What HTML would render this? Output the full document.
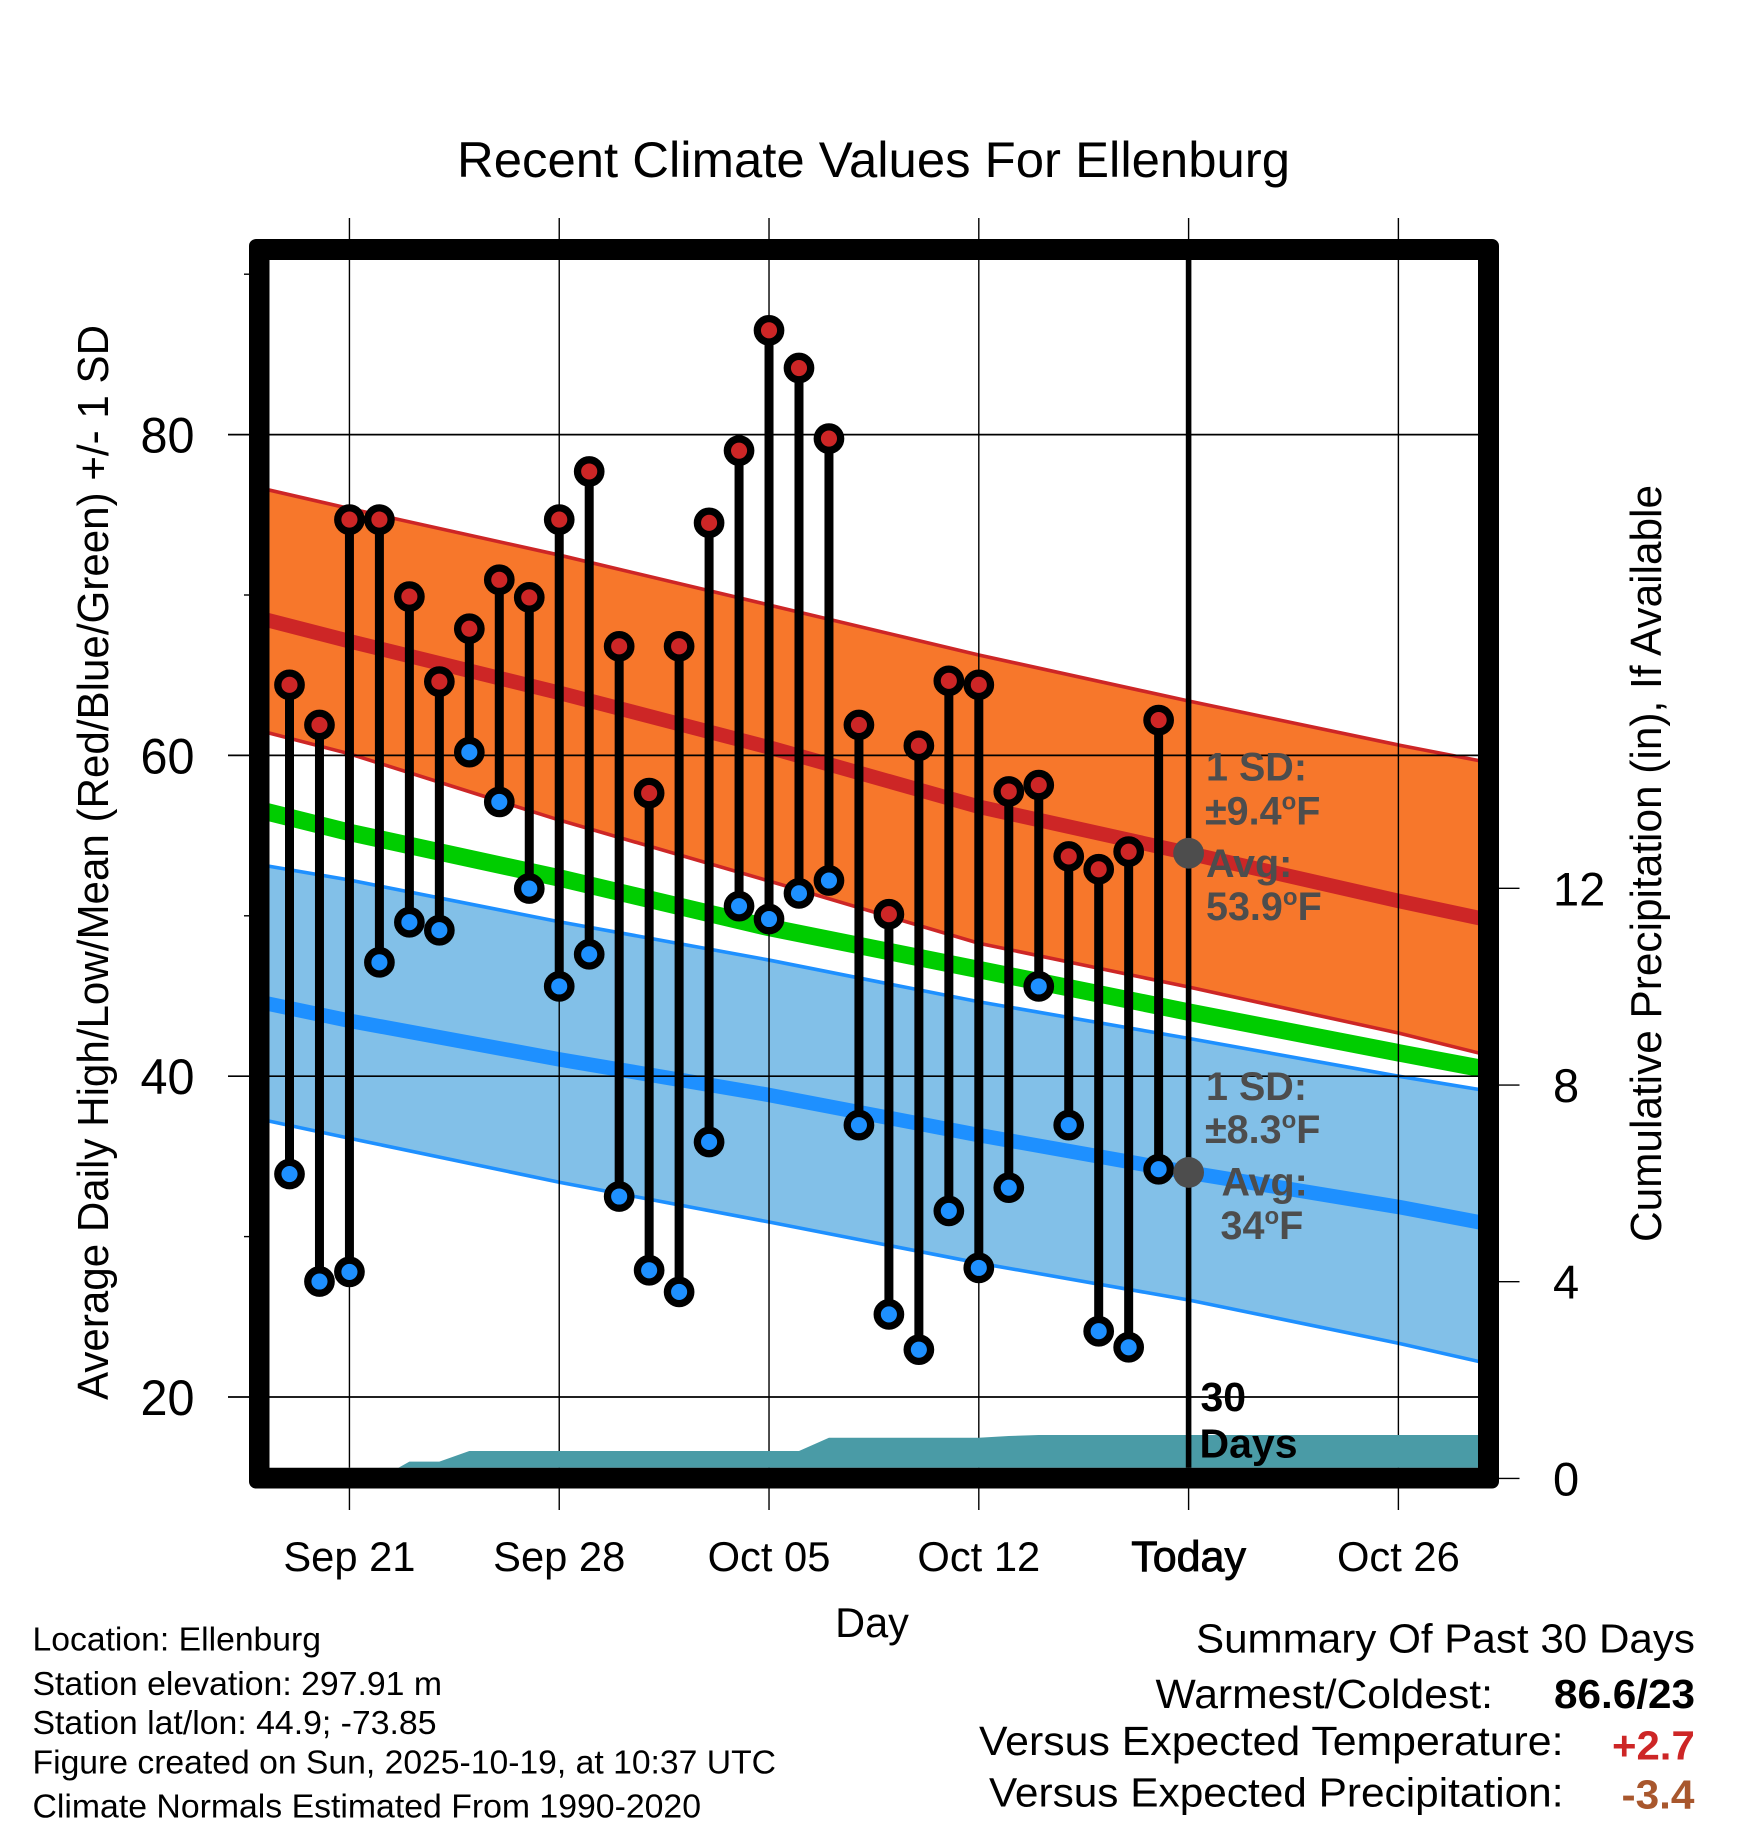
<!DOCTYPE html>
<html lang="en">
<head>
<meta charset="utf-8">
<title>Recent Climate Values For Ellenburg</title>
<style>
html,body{margin:0;padding:0;background:#fff;}
svg{display:block;}
text{font-family:"Liberation Sans",Arial,Helvetica,sans-serif;fill:#000;}
.note{font-weight:700;fill:#4d4d4d;font-size:39.5px;}
.foot{font-size:33px;}
.sum{font-size:41px;}
.sumb{font-size:41px;font-weight:700;}
</style>
</head>
<body>
<svg id="chart" xmlns="http://www.w3.org/2000/svg" width="1748" height="1828" viewBox="0 0 1748 1828">
<defs><clipPath id="plot-clip"><rect x="269.5" y="260" width="1208.5" height="1207.7"/></clipPath></defs>
<rect x="0" y="0" width="1748" height="1828" fill="#fff"/>
<g id="plot" clip-path="url(#plot-clip)"></g>
<g id="axes"></g>
<path fill="#000" fill-rule="evenodd" d="M256 239H1492A7 7 0 0 1 1499 246V1481.5A7 7 0 0 1 1492 1488.5H256A7 7 0 0 1 249 1481.5V246A7 7 0 0 1 256 239ZM269.5 260V1467.7H1478V260Z"/>

<text x="457" y="177" font-size="50" textLength="833" lengthAdjust="spacingAndGlyphs">Recent Climate Values For Ellenburg</text>
<text transform="translate(108 1400) rotate(-90)" font-size="44" textLength="1075" lengthAdjust="spacingAndGlyphs">Average Daily High/Low/Mean (Red/Blue/Green) +/- 1 SD</text>
<text transform="translate(1661 1242) rotate(-90)" font-size="44" textLength="757" lengthAdjust="spacingAndGlyphs">Cumulative Precipitation (in), If Available</text>
<text x="872" y="1637" font-size="41.5" text-anchor="middle">Day</text>

<g>
<text class="note" x="1206" y="780.4">1 SD:</text>
<text class="note" x="1205" y="824.4">±9.4<tspan font-size="24" dy="-15">o</tspan><tspan dy="15">F</tspan></text>
<text class="note" x="1206" y="876.8">Avg:</text>
<text class="note" x="1206" y="920">53.9<tspan font-size="24" dy="-15">o</tspan><tspan dy="15">F</tspan></text>
</g>
<g>
<text class="note" x="1206" y="1100">1 SD:</text>
<text class="note" x="1205" y="1143.2">±8.3<tspan font-size="24" dy="-15">o</tspan><tspan dy="15">F</tspan></text>
<text class="note" x="1221.5" y="1195.6">Avg:</text>
<text class="note" x="1220.5" y="1238.8">34<tspan font-size="24" dy="-15">o</tspan><tspan dy="15">F</tspan></text>
</g>
<g>
<text x="1200.5" y="1411" font-size="41" font-weight="700">30</text>
<text x="1199.5" y="1457.5" font-size="41" font-weight="700">Days</text>
</g>

<g>
<text class="foot" x="32.5" y="1650.5" textLength="288.5" lengthAdjust="spacingAndGlyphs">Location: Ellenburg</text>
<text class="foot" x="32.5" y="1695" textLength="409.5" lengthAdjust="spacingAndGlyphs">Station elevation: 297.91 m</text>
<text class="foot" x="32.5" y="1734" textLength="404" lengthAdjust="spacingAndGlyphs">Station lat/lon: 44.9; -73.85</text>
<text class="foot" x="32.5" y="1773.5" textLength="743.5" lengthAdjust="spacingAndGlyphs">Figure created on Sun, 2025-10-19, at 10:37 UTC</text>
<text class="foot" x="32.5" y="1817.5" textLength="668.5" lengthAdjust="spacingAndGlyphs">Climate Normals Estimated From 1990-2020</text>
</g>
<g>
<text class="sum" x="1196" y="1652.5" textLength="499" lengthAdjust="spacingAndGlyphs">Summary Of Past 30 Days</text>
<text class="sum" x="1155.5" y="1708" textLength="337.5" lengthAdjust="spacingAndGlyphs">Warmest/Coldest:</text>
<text class="sumb" x="1554" y="1708" textLength="141" lengthAdjust="spacingAndGlyphs">86.6/23</text>
<text class="sum" x="979" y="1755" textLength="584.5" lengthAdjust="spacingAndGlyphs">Versus Expected Temperature:</text>
<text class="sumb" x="1612" y="1759.5" textLength="82.8" lengthAdjust="spacingAndGlyphs" style="fill:#cd2626">+2.7</text>
<text class="sum" x="989" y="1806.5" textLength="574.5" lengthAdjust="spacingAndGlyphs">Versus Expected Precipitation:</text>
<text class="sumb" x="1621.5" y="1808.4" textLength="73" lengthAdjust="spacingAndGlyphs" style="fill:#a8572d">-3.4</text>
</g>
</svg>
<script>
// Daily observed temperatures, Sep 19 .. Oct 18 (deg F)
const dailyHigh = [64.4,61.9,74.7,74.7,69.9,64.6,67.9,70.95,69.85,74.7,77.7,66.8,57.65,66.8,74.5,79.0,86.5,84.15,79.75,61.9,50.1,60.6,64.65,64.4,57.75,58.15,53.7,52.9,54.0,62.2];
const dailyLow = [33.9,27.2,27.8,47.1,49.6,49.1,60.2,57.1,51.7,45.6,47.6,32.5,27.9,26.55,35.9,50.6,49.8,51.4,52.2,36.95,25.15,22.95,31.6,28.05,33.05,45.6,36.95,24.1,23.1,34.2];

// Climate normals read at these day numbers (day 0 = Sep 19)
const normalDays = [-1,2,9,16,23,30,37,40];
const highUpper = [76.68,75.39,72.49,69.38,66.26,63.39,60.65,59.56];
const highMean = [68.56,67.12,63.9,60.5,56.8,53.9,50.93,49.74];
const highLower = [61.55,60.1,55.97,52.17,48.29,45.56,42.69,41.3];
const overallMean = [56.6,55.2,52.36,49.27,46.65,44.0,41.46,40.4];
const lowUpper = [53.19,52.23,49.63,47.24,44.64,42.36,40.0,39.08];
const lowMean = [44.63,43.46,41.05,38.83,36.33,34.0,31.85,30.79];
const lowLower = [37.33,36.13,33.39,30.91,28.35,26.05,23.35,22.08];

// Cumulative precipitation by day number (inches)
const precipDays = [0,3,4,5,6,17,18,23,24,25,29,30,40];
const precipValues = [0,0,0.34,0.34,0.557,0.557,0.828,0.828,0.863,0.883,0.883,0.883,0.883];

// Today's averages
const todayDay = [30];
const todayAverages = [53.9,34];

// Axis ticks
const xTickDays = [2,9,16,23,30,37];
const xTickLabels = ['Sep 21','Sep 28','Oct 05','Oct 12','Today','Oct 26'];
const yMajorTicks = [20,40,60,80];
const yMajorLabels = ['20','40','60','80'];
const yMinorTicks = [30,50,70,90];
const rightTicks = [0,4,8,12];
const rightLabels = ['0','4','8','12'];

const NS = 'http://www.w3.org/2000/svg';
const plot = document.getElementById('plot');
const axes = document.getElementById('axes');
function xOf(d){ return 289.5 + 29.97 * d; }
function yOf(v){ return 1397 - (v - 20) * 16.04; }
function pOf(p){ return 1478.4 - p * 49.17; }
function make(tag, parent, attrs){
  const el = document.createElementNS(NS, tag);
  for (const k in attrs) el.setAttribute(k, attrs[k]);
  parent.appendChild(el);
  return el;
}
function pts(days, vals, scale){
  return days.map(function(d, i){ return xOf(d).toFixed(2) + ',' + scale(vals[i]).toFixed(2); });
}
function band(upper, lower, fill){
  const a = pts(normalDays, upper, yOf);
  const b = pts(normalDays, lower, yOf).reverse();
  return make('polygon', plot, {points: a.concat(b).join(' '), fill: fill});
}
function curve(vals, color, width){
  return make('polyline', plot, {points: pts(normalDays, vals, yOf).join(' '), fill: 'none', stroke: color, 'stroke-width': width});
}
let el;

el = band(highUpper, highLower, '#f7772b');


el = band(lowUpper, lowLower, '#82c0e8');


el = curve(highUpper, '#cd2626', 3.6);


el = curve(highLower, '#cd2626', 3.6);


el = curve(lowUpper, '#1e90ff', 3.6);


el = curve(lowLower, '#1e90ff', 3.6);


el = curve(highMean, '#cd2626', 14.5);


el = curve(overallMean, '#00cd00', 17.5);


el = curve(lowMean, '#1e90ff', 14.5);



// Gridlines sit above the normals
yMajorTicks.forEach(function(v){
  const g = make('line', plot, {x1: 260, x2: 1490, y1: yOf(v), y2: yOf(v), stroke: '#000', 'stroke-width': 1.7});
  
  
});
xTickDays.forEach(function(d){
  const g = make('line', plot, {x1: xOf(d), x2: xOf(d), y1: 250, y2: 1480, stroke: '#000', 'stroke-width': 1.4});
  
  
});

// Precipitation area
const precipTop = pts(precipDays, precipValues, pOf);
const precipArea = make('polygon', plot, {
  points: precipTop.join(' ') + ' ' + xOf(precipDays[precipDays.length - 1]).toFixed(2) + ',' + pOf(0) + ' ' + xOf(precipDays[0]).toFixed(2) + ',' + pOf(0),
  fill: '#4a9ba6'
});



// Today marker
const todayLine = make('line', plot, {x1: xOf(todayDay[0]), x2: xOf(todayDay[0]), y1: 250, y2: 1480, stroke: '#000', 'stroke-width': 5.6});



// Daily high-low stems and dots
dailyHigh.forEach(function(h, i){
  const x = xOf(i);
  const stem = make('line', plot, {x1: x, x2: x, y1: yOf(h), y2: yOf(dailyLow[i]), stroke: '#000', 'stroke-width': 9});
  
  
  const hi = make('circle', plot, {cx: x, cy: yOf(h), r: 11.7, fill: '#cd2626', stroke: '#000', 'stroke-width': 7.3});
  
  
  const lo = make('circle', plot, {cx: x, cy: yOf(dailyLow[i]), r: 11.7, fill: '#1e90ff', stroke: '#000', 'stroke-width': 7.3});
  
  
});

// Today's average dots
todayAverages.forEach(function(v){
  const dot = make('circle', plot, {cx: xOf(todayDay[0]), cy: yOf(v), r: 15.4, fill: '#4d4d4d'});
  
  
});

// Axis ticks and labels
xTickDays.forEach(function(d, i){
  const top = make('line', axes, {x1: xOf(d), x2: xOf(d), y1: 218, y2: 240, stroke: '#000', 'stroke-width': 1.4});
  
  
  const bottom = make('line', axes, {x1: xOf(d), x2: xOf(d), y1: 1488, y2: 1510, stroke: '#000', 'stroke-width': 1.4});
  
  
  const isToday = xTickLabels[i] === 'Today';
  const t = make('text', axes, {x: xOf(d), y: 1571, 'font-size': isToday ? 43 : 41.7, 'text-anchor': 'middle'});
  t.textContent = xTickLabels[i];
  if (isToday) { t.setAttribute('stroke', '#000'); t.setAttribute('stroke-width', '0.9'); }
  
  
});
yMajorTicks.forEach(function(v, i){
  const tick = make('line', axes, {x1: 228, x2: 250, y1: yOf(v), y2: yOf(v), stroke: '#000', 'stroke-width': 1.7});
  
  
  const t = make('text', axes, {x: 140.5, y: yOf(v) + 18, 'font-size': 50, textLength: 54, lengthAdjust: 'spacingAndGlyphs'});
  t.textContent = yMajorLabels[i];
  
  
});
yMinorTicks.forEach(function(v){
  const tick = make('line', axes, {x1: 244, x2: 250, y1: yOf(v), y2: yOf(v), stroke: '#000', 'stroke-width': 1.4});
  
  
});
rightTicks.forEach(function(p, i){
  const tick = make('line', axes, {x1: 1498, x2: 1519.5, y1: pOf(p), y2: pOf(p), stroke: '#000', 'stroke-width': 1.4});
  
  
  const t = make('text', axes, {x: 1553, y: pOf(p) + 17, 'font-size': 47});
  t.textContent = rightLabels[i];
  
  
});
</script>
</body>
</html>
